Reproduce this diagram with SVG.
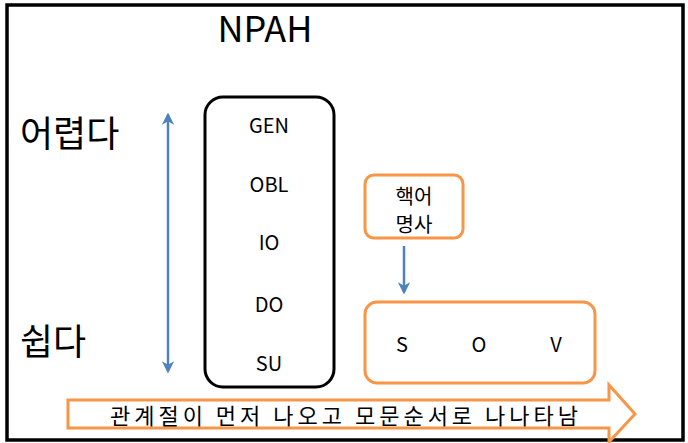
<svg xmlns="http://www.w3.org/2000/svg" width="688" height="443" viewBox="0 0 688 443">
<style>
  text { font-family: "Noto Sans CJK KR", "Noto Sans", sans-serif; fill: #000; }
  .lbl { font-size: 20px; text-anchor: middle; }
  .big { font-size: 36px; }
  .org { fill: #fff; stroke: #F79646; stroke-width: 3; }
  .blue { stroke: #4F81BD; stroke-width: 2.5; fill: none; }
</style>
<defs>
  <marker id="ah" viewBox="0 0 10 10" refX="8" refY="5" markerWidth="5" markerHeight="5" orient="auto-start-reverse" markerUnits="strokeWidth">
    <path d="M0,0 L10,5 L0,10 L3,5 Z" fill="#4F81BD"/>
  </marker>
</defs>
<rect x="0" y="0" width="688" height="443" fill="#fff"/>
<rect id="frame" x="7" y="5" width="676" height="435" fill="none" stroke="#000" stroke-width="3.5"/>

<g id="title"><text x="265" y="42" font-size="36" text-anchor="middle">NPAH</text></g>
<g id="hard"><text class="big" x="20" y="147">어렵다</text></g>
<g id="easy"><text class="big" x="20" y="355">쉽다</text></g>

<g id="hierarchy">
  <rect x="205" y="97" width="129" height="290" rx="18" ry="18" fill="#fff" stroke="#000" stroke-width="3"/>
  <text class="lbl" x="269" y="133">GEN</text>
  <text class="lbl" x="269" y="192">OBL</text>
  <text class="lbl" x="269" y="250">IO</text>
  <text class="lbl" x="269" y="312">DO</text>
  <text class="lbl" x="269" y="371">SU</text>
</g>

<g id="headnoun">
  <rect class="org" x="365" y="175" width="98" height="63" rx="9" ry="9"/>
  <text class="lbl" x="414" y="204">핵어</text>
  <text class="lbl" x="414" y="232">명사</text>
</g>

<g id="sov">
  <rect class="org" x="365" y="302" width="230" height="81" rx="12" ry="12"/>
  <text class="lbl" x="402" y="352">S</text>
  <text class="lbl" x="479" y="352">O</text>
  <text class="lbl" x="556" y="352">V</text>
</g>

<g id="order-arrow">
  <path class="org" d="M68,400 L609,400 L609,385 L635,414 L609,442 L609,428 L68,428 Z"/>
  <text x="346" y="424" font-size="22" text-anchor="middle" letter-spacing="4">관계절이 먼저 나오고 모문순서로 나나타남</text>
</g>

<g id="connectors">
  <line class="blue" x1="168" y1="115" x2="168" y2="371" marker-start="url(#ah)" marker-end="url(#ah)"/>
  <line class="blue" x1="404" y1="246" x2="404" y2="292" marker-end="url(#ah)"/>
</g>
</svg>
